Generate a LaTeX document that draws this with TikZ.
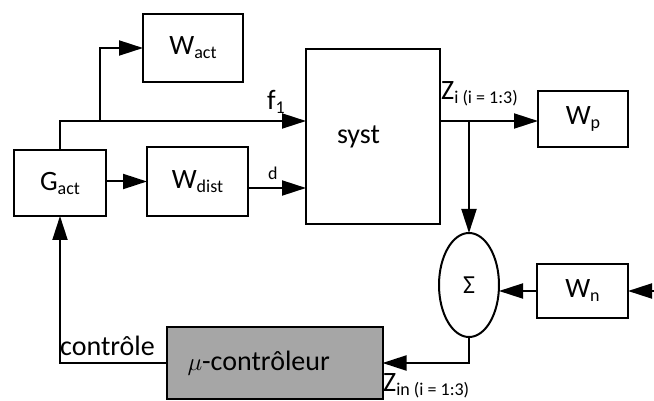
\documentclass[tikz,border=0pt]{standalone}
\usepackage{fontspec}
\setmainfont{Carlito}
\usetikzlibrary{arrows.meta, shapes.geometric, calc, positioning}

\definecolor{ctrlgray}{HTML}{A6A6A6}
\newcommand{\subtxt}[1]{\raisebox{-4pt}{\fontsize{18}{18}\selectfont #1}}

\begin{document}
\begin{tikzpicture}[
  x=1pt, y=-1pt,
  % ---- styles ----
  blk/.style 2 args={%
    draw, line width=2pt, minimum width=#1, minimum height=#2,
    inner sep=0pt, outer sep=0pt, font=\fontsize{28}{30}\selectfont,
  },
  sumnode/.style={%
    draw, ellipse, line width=2pt, minimum width=60pt, minimum height=104pt,
    inner sep=0pt, outer sep=0pt, font=\fontsize{26}{28}\selectfont,
  },
  conn/.style={line width=2pt, -{Triangle[length=24pt, width=15pt]}},
  lbl/.style={inner sep=0pt, font=\fontsize{28}{30}\selectfont},
  smalllbl/.style={inner sep=0pt, font=\fontsize{18}{20}\selectfont},
]

\useasboundingbox (0,0) rectangle (654,401);

% =========================================================
% blocks
% =========================================================
\node[blk={92pt}{66pt}]   (gact)  at (60,183)    {G\subtxt{act}};
\node[blk={100pt}{68pt}]  (wact)  at (193,48)    {W\subtxt{act}};
\node[blk={101pt}{69pt}]  (wdist) at (197.5,181.5) {W\subtxt{dist}};
\node[blk={134pt}{175pt}, text width=72pt, align=left, inner xsep=31pt]
    (syst) at (373,136.5) {syst};
\node[blk={90pt}{56pt}]   (wp)    at (583,119)   {W\subtxt{p}};
\node[sumnode]            (sigma) at (469,285)   {Σ};
\node[blk={91pt}{54pt}]   (wn)    at (582.5,291) {W\subtxt{n}};
\node[blk={215pt}{72pt}, fill=ctrlgray, text width=174pt, align=left,
      inner xsep=21pt]
    (muc) at (274.5,363) {$\mu$-contrôleur};

% =========================================================
% connectors
% =========================================================
\coordinate (fbus) at (100,121);   % branch to W_act
\coordinate (dlvl) at (0,188);     % level of d
\coordinate (nin)  at (654,291);   % noise input

\draw[conn] (gact.north) |- (syst.west |- fbus);
\draw[conn] (fbus) |- (wact.west);
\draw[conn] (gact.east |- wdist.west) -- (wdist.west);
\draw[conn] (wdist.east |- dlvl) -- (syst.west |- dlvl);
\draw[conn] (syst.east |- fbus) -- (wp.west |- fbus);
\draw[conn] (sigma.north |- fbus) -- (sigma.north);
\draw[conn] (nin) -- (wn.east);
\draw[conn] (wn.west) -- (sigma.east |- wn.west);
\draw[conn] (sigma.south) |- (muc.east);
\draw[conn] (muc.west) -| (gact.south);

% =========================================================
% signal labels
% =========================================================
\node[lbl, anchor=base west]      (lf1)  at (267,110) {f\subtxt{1}};
\node[smalllbl, anchor=base west] (ld)   at (268,180) {d};
\node[lbl, anchor=base west]      (lzi)  at (441,100) {Z\subtxt{i (i = 1:3)}};
\node[lbl, anchor=base west]      (lzin) at (383,391) {Z\subtxt{in (i = 1:3)}};
\node[lbl, anchor=base west]      (lctl) at (60,355)  {contrôle};

\end{tikzpicture}
\end{document}
